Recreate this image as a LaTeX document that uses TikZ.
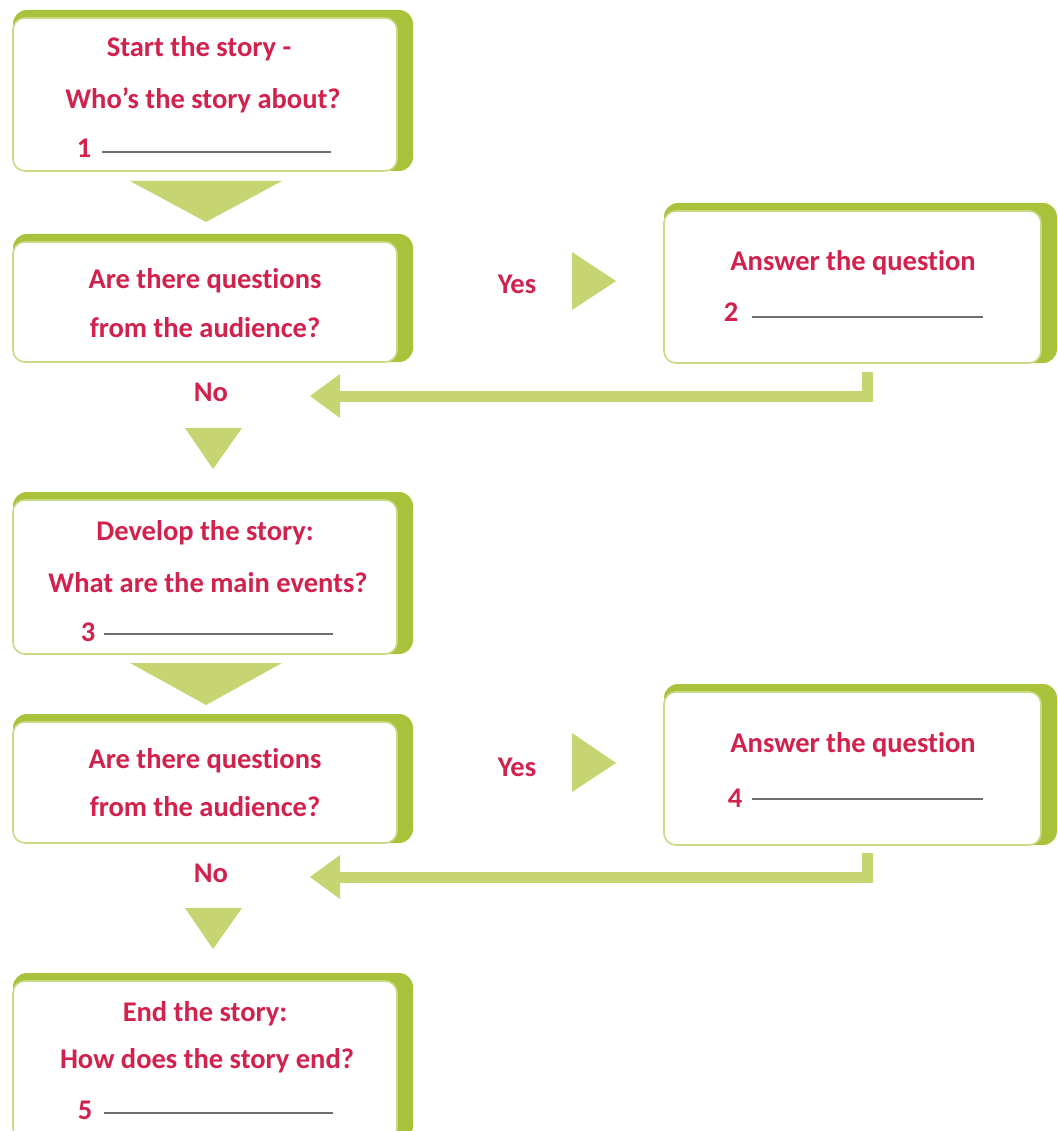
\documentclass[tikz,border=0pt]{standalone}
\usepackage{fontspec}
\setmainfont[Ligatures=NoCommon]{Carlito}
\usetikzlibrary{fit}
\definecolor{dg}{HTML}{A9C23B}
\definecolor{lg}{HTML}{C6D572}
\definecolor{bl}{HTML}{CBDA85}
\definecolor{tr}{HTML}{D2214D}
\definecolor{ln}{HTML}{6E6E72}
\tikzset{
  x=1pt,y=-1pt,
  inner/.style={draw=bl, line width=1.6pt, fill=white, rounded corners=12pt, inner sep=0pt},
  outer/.style={fill=dg, rounded corners=14pt},
  txt/.style={text=tr, font=\bfseries\fontsize{28.5}{32}\selectfont, inner sep=0pt, anchor=base},
  blank/.style={draw=ln, line width=1.6pt},
  tri/.style={fill=lg},
}
\newcommand{\gbox}[5]{%
  \fill[outer] (#2,#3-8) rectangle (#4+16,#5);
  \node[inner, fit={(#2,#3) (#4,#5)}] (#1) {};
}
\begin{document}
\begin{tikzpicture}
\useasboundingbox (0,0) rectangle (1057,1131);
\fill[white] (0,0) rectangle (1057,1131);
% boxes
\gbox{b1}{13}{18}{397}{171}
\gbox{b2}{13}{242}{397}{362}
\gbox{a1}{664}{211}{1041}{363}
\gbox{b3}{13}{500}{397}{654}
\gbox{b4}{13}{722}{397}{843}
\gbox{a2}{664}{692}{1041}{845}
\gbox{b5}{13}{981}{397}{1140}
% texts
\node[txt] (t1a) at (199,57) {Start the story -};
\node[txt] (t1b) at (203,109) {Who's the story about?};
\node[txt] (n1) at (84,158) {1};
\draw[blank] (102,152) -- (331,152);
\node[txt] (t2a) at (205,289) {Are there questions};
\node[txt] (t2b) at (205,337) {from the audience?};
\node[txt] (ta1) at (853,271) {Answer the question};
\node[txt] (n2) at (731,321) {2};
\draw[blank] (752,317) -- (983,317);
\node[txt] (t3a) at (205,540) {Develop the story:};
\node[txt] (t3b) at (208,592) {What are the main events?};
\node[txt] (n3) at (88,641) {3};
\draw[blank] (104,634) -- (333,634);
\node[txt] (t4a) at (205,768) {Are there questions};
\node[txt] (t4b) at (205,816) {from the audience?};
\node[txt] (ta2) at (853,752) {Answer the question};
\node[txt] (n4) at (735,807) {4};
\draw[blank] (752,799) -- (983,799);
\node[txt] (t5a) at (205,1021) {End the story:};
\node[txt] (t5b) at (207,1068) {How does the story end?};
\node[txt] (n5) at (85,1119) {5};
\draw[blank] (104,1113) -- (333,1113);
% yes / no
\node[txt] (y1) at (517,294) {Yes};
\node[txt] (y2) at (517,776) {Yes};
\node[txt] (no1) at (211,401) {No};
\node[txt] (no2) at (211,882) {No};
% down triangles
\fill[tri] (130,181) -- (282,181) -- (206,222) -- cycle;
\fill[tri] (185,428) -- (242,428) -- (213,469) -- cycle;
\fill[tri] (130,663) -- (282,663) -- (206,705) -- cycle;
\fill[tri] (185,908) -- (242,908) -- (213,949) -- cycle;
% yes triangles
\fill[tri] (572,252) -- (572,310) -- (616,281) -- cycle;
\fill[tri] (572,733) -- (572,792) -- (616,763) -- cycle;
% return arrows
\coordinate (r1) at (867,372);
\coordinate (h1) at (340,396);
\draw[lg, line width=11pt] (r1) -- (867,396) -- (h1);
\fill[tri] (310,396) -- (340,374) -- (340,418) -- cycle;
\coordinate (r2) at (867,853);
\coordinate (h2) at (340,877);
\draw[lg, line width=11pt] (r2) -- (867,877) -- (h2);
\fill[tri] (310,877) -- (340,855) -- (340,899) -- cycle;
\end{tikzpicture}
\end{document}
